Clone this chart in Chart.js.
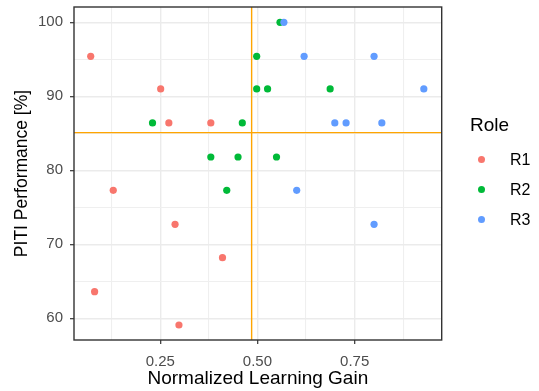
<!DOCTYPE html>
<html>
<head>
<meta charset="utf-8">
<script src="https://cdn.jsdelivr.net/npm/chart.js@4.4.1/dist/chart.umd.min.js"></script>
<style>
  html, body { margin: 0; padding: 0; background: #fff; }
  #wrap { position: relative; width: 539px; height: 391px; font-family: "Liberation Sans", Arial, sans-serif; }
  #legendTitle { position: absolute; left: 470px; top: 115px; font-size: 19px; line-height: 19px; color: #000; }
  .item { position: absolute; left: 478px; height: 30px; display: flex; align-items: center; font-size: 16px; color: #000; }
  .item .dot { width: 7px; height: 7px; border-radius: 50%; margin-right: 25px; }
</style>
</head>
<body>
<div id="wrap">
  <canvas id="scatterChart" width="539" height="391"></canvas>
  <div id="legendTitle">Role</div>
  <div id="legendItems"></div>
</div>
<script>
// 各角色的資料 (x: Normalized Learning Gain, y: PITI Performance)
const roles = ['R1', 'R2', 'R3'];
const roleColors = ['#F8766D', '#00BA38', '#619CFF'];

const r1Gain = [0.071, 0.251, 0.272, 0.380, 0.129, 0.288, 0.410, 0.081, 0.298];
const r1Perf = [95.4, 91.0, 86.4, 86.4, 77.3, 72.7, 68.2, 63.6, 59.1];

const r2Gain = [0.230, 0.461, 0.498, 0.498, 0.526, 0.380, 0.450, 0.421, 0.558, 0.687, 0.549];
const r2Perf = [86.4, 86.4, 95.4, 91.0, 91.0, 81.8, 81.8, 77.3, 100.0, 91.0, 81.8];

const r3Gain = [0.568, 0.620, 0.800, 0.928, 0.699, 0.728, 0.820, 0.601, 0.800];
const r3Perf = [100.0, 95.4, 95.4, 91.0, 86.4, 86.4, 86.4, 77.3, 72.7];

// 參考線 (平均值)
const meanGain = 0.485;
const meanPerf = 85.1;

// 軸範圍與格線
const xRange = [0.028, 0.974];
const yRange = [57.07, 102.07];
const xGridValues = [0.125, 0.25, 0.375, 0.5, 0.625, 0.75, 0.875];
const xMajorTicks = [0.25, 0.5, 0.75];
const yGridValues = [60, 65, 70, 75, 80, 85, 90, 95, 100];
const yMajorTicks = [60, 70, 80, 90, 100];

const gainSets = [r1Gain, r2Gain, r3Gain];
const perfSets = [r1Perf, r2Perf, r3Perf];

const pointSets = roles.map((role, i) => ({
    type: 'scatter',
    label: role,
    data: gainSets[i].map((g, j) => ({ x: g, y: perfSets[i][j] })),
    backgroundColor: roleColors[i],
    borderWidth: 0,
    pointRadius: 3.6,
    pointHoverRadius: 3.6,
    order: 3 - i
}));

const refLines = [
    {
        type: 'line',
        label: 'meanPerf',
        data: [{ x: xRange[0], y: meanPerf }, { x: xRange[1], y: meanPerf }],
        borderColor: '#FFA500',
        borderWidth: 1.4,
        pointRadius: 0,
        order: 0
    },
    {
        type: 'line',
        label: 'meanGain',
        data: [{ x: meanGain, y: yRange[0] }, { x: meanGain, y: yRange[1] }],
        borderColor: '#FFA500',
        borderWidth: 1.4,
        pointRadius: 0,
        order: 0
    }
];

// 外框
const panelBorder = {
    id: 'panelBorder',
    afterDraw(chart) {
        const { ctx, chartArea: a } = chart;
        ctx.save();
        ctx.strokeStyle = '#333333';
        ctx.lineWidth = 1.4;
        ctx.strokeRect(a.left, a.top, a.right - a.left, a.bottom - a.top);
        ctx.restore();
    }
};

const gridColor = (majors) => (c) => majors.includes(c.tick.value) ? '#EBEBEB' : '#EFEFEF';
const gridWidth = (majors) => (c) => majors.includes(c.tick.value) ? 1.4 : 1.1;
const tickColor = (majors) => (c) => majors.includes(c.tick.value) ? '#333333' : 'rgba(0,0,0,0)';

const ctx = document.getElementById('scatterChart').getContext('2d');
const scatterChart = new Chart(ctx, {
    data: { datasets: [...pointSets, ...refLines] },
    options: {
        responsive: false,
        animation: false,
        layout: { padding: { left: 0, top: 7, right: 97.3, bottom: 0 } },
        plugins: {
            legend: { display: false },
            tooltip: { enabled: false }
        },
        scales: {
            x: {
                type: 'linear',
                min: xRange[0],
                max: xRange[1],
                afterBuildTicks: s => { s.ticks = xGridValues.map(v => ({ value: v })); },
                afterFit: s => { s.height = 51; s.paddingLeft = 0; s.paddingRight = 0; },
                border: { display: false },
                grid: {
                    color: gridColor(xMajorTicks),
                    lineWidth: gridWidth(xMajorTicks),
                    tickColor: tickColor(xMajorTicks),
                    tickLength: 4,
                    tickWidth: 1.2
                },
                ticks: {
                    autoSkip: false,
                    maxRotation: 0,
                    padding: 9,
                    color: '#4D4D4D',
                    font: { family: 'Liberation Sans', size: 15 },
                    callback: v => xMajorTicks.includes(v) ? v.toFixed(2) : ''
                },
                title: {
                    display: true,
                    text: 'Normalized Learning Gain',
                    color: '#000',
                    font: { family: 'Liberation Sans', size: 19 },
                    padding: { top: 0, bottom: 1 }
                }
            },
            y: {
                type: 'linear',
                min: yRange[0],
                max: yRange[1],
                afterBuildTicks: s => { s.ticks = yGridValues.map(v => ({ value: v })); },
                afterFit: s => { s.width = 74; s.paddingTop = 0; s.paddingBottom = 0; },
                border: { display: false },
                grid: {
                    color: gridColor(yMajorTicks),
                    lineWidth: gridWidth(yMajorTicks),
                    tickColor: tickColor(yMajorTicks),
                    tickLength: 4,
                    tickWidth: 1.2
                },
                ticks: {
                    autoSkip: false,
                    padding: 7,
                    color: '#4D4D4D',
                    font: { family: 'Liberation Sans', size: 15 },
                    callback: v => yMajorTicks.includes(v) ? String(v) : ''
                },
                title: {
                    display: true,
                    text: 'PITI Performance [%]',
                    color: '#000',
                    font: { family: 'Liberation Sans', size: 17.5 },
                    padding: { top: 12, bottom: 0 }
                }
            }
        }
    },
    plugins: [panelBorder]
});

// 圖例
const legendItems = document.getElementById('legendItems');
roles.forEach((role, i) => {
    const row = document.createElement('div');
    row.className = 'item';
    row.style.top = (144.5 + i * 30) + 'px';
    row.innerHTML = `<span class="dot" style="background:${roleColors[i]}"></span><span>${role}</span>`;
    legendItems.appendChild(row);
});
</script>
</body>
</html>
